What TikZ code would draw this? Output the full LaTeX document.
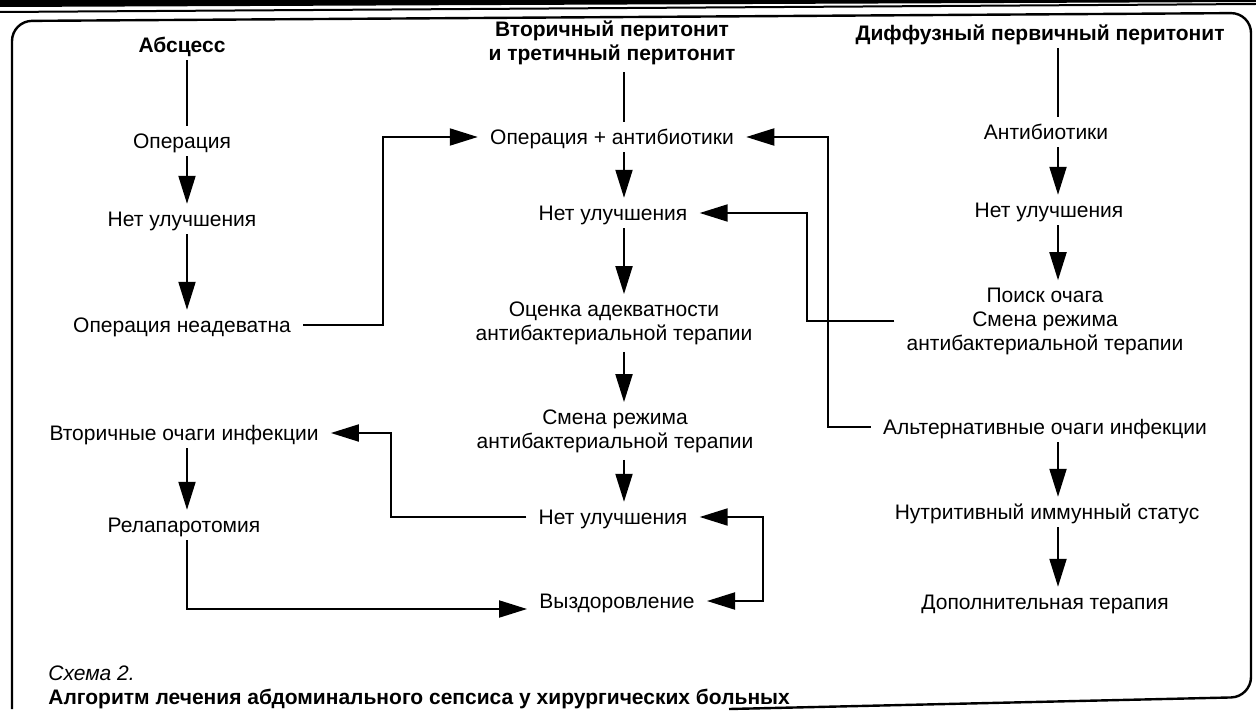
\documentclass[tikz,border=0pt]{standalone}
\usepackage{fontspec}
\setmainfont{Liberation Sans}
\usetikzlibrary{arrows.meta}
\begin{document}
\begin{tikzpicture}[x=0.5pt,y=-0.5pt,
  lbl/.style={font=\fontsize{10.5}{12}\selectfont, inner xsep=6pt, inner ysep=3.6pt, text height=7.6pt, text depth=0pt},
  mlbl/.style={font=\fontsize{10.5}{12}\selectfont, align=center, inner xsep=6pt, inner ysep=3.5pt},
  hd/.style={lbl, font=\fontsize{10.5}{12}\selectfont\bfseries},
  mhd/.style={mlbl, font=\fontsize{10.5}{12}\selectfont\bfseries},
  captxt/.style={font=\fontsize{10.5}{12}\selectfont, anchor=west, inner sep=0pt},
  conn/.style={line width=1pt},
  arr/.style={conn, -{Triangle[length=14pt,width=8.5pt]}},
  darr/.style={conn, {Triangle[length=14pt,width=8.5pt]}-{Triangle[length=14pt,width=8.5pt]}},
  framebox/.style={line width=1.2pt, rounded corners=10pt}
]
\useasboundingbox (0,0) rectangle (1256,711);
% top rules (slightly skewed as in the scan)
\fill (0,0) -- (1256,0) -- (1256,2) -- (0,7) -- cycle;
\draw[line width=1pt] (0,12) -- (1256,4);
% frame
\draw[framebox] (729,709) -- (1251,697) -- (1251,13) -- (12,21) -- (12,709);

% column / junction coordinates
\coordinate (cL) at (187,0);
\coordinate (cM) at (624,0);
\coordinate (cR) at (1058,0);
\coordinate (jA) at (383,0);
\coordinate (jB) at (828,0);
\coordinate (jC) at (807,0);
\coordinate (jD) at (391,0);
\coordinate (jE) at (763,0);

% left column
\node[hd] (abs) at (182,45) {Абсцесс};
\node[lbl] (op) at (182,141) {Операция};
\node[lbl] (nu1) at (182,219) {Нет улучшения};
\node[lbl] (opn) at (182,325) {Операция неадеватна};
\node[lbl] (vto) at (184,433) {Вторичные очаги инфекции};
\node[lbl] (rel) at (184,525) {Релапаротомия};

% middle column
\node[mhd] (vp) at (612,43) {Вторичный перитонит\\и третичный перитонит};
\node[lbl] (oa) at (612,137) {Операция + антибиотики};
\node[lbl] (nu2) at (613,213) {Нет улучшения};
\node[mlbl] (oc) at (614,323) {Оценка адекватности\\антибактериальной терапии};
\node[mlbl] (sm) at (615,431) {Смена режима\\антибактериальной терапии};
\node[lbl] (nu3) at (613,517) {Нет улучшения};
\node[lbl] (vyz) at (617,601) {Выздоровление};

% right column
\node[hd] (dif) at (1040,33) {Диффузный первичный перитонит};
\node[lbl] (ab) at (1046,132) {Антибиотики};
\node[lbl] (nu4) at (1049,210) {Нет улучшения};
\node[mlbl] (po) at (1045,321) {Поиск очага\\Смена режима\\антибактериальной терапии};
\node[lbl] (alt) at (1045,427) {Альтернативные очаги инфекции};
\node[lbl] (nut) at (1047,512) {Нутритивный иммунный статус};
\node[lbl] (dop) at (1045,602) {Дополнительная терапия};

% caption
\node[captxt, font=\fontsize{10.5}{12}\selectfont\itshape] (cap1) at (48,673) {Схема 2.};
\node[captxt, font=\fontsize{10.5}{12}\selectfont\bfseries] (cap2) at (48,699) {Алгоритм лечения абдоминального сепсиса у хирургических больных};

% left column connectors
\draw[conn] (abs.south -| cL) -- (op.north -| cL);
\draw[arr] (op.south -| cL) -- (nu1.north -| cL);
\draw[arr] (nu1.south -| cL) -- (opn.north -| cL);
\draw[arr] (vto.south -| cL) -- (rel.north -| cL);

% middle column connectors
\draw[conn] (vp.south -| cM) -- (oa.north -| cM);
\draw[arr] (oa.south -| cM) -- (nu2.north -| cM);
\draw[arr] (nu2.south -| cM) -- (oc.north -| cM);
\draw[arr] (oc.south -| cM) -- (sm.north -| cM);
\draw[arr] (sm.south -| cM) -- (nu3.north -| cM);

% right column connectors
\draw[conn] (dif.south -| cR) -- (ab.north -| cR);
\draw[arr] (ab.south -| cR) -- (nu4.north -| cR);
\draw[arr] (nu4.south -| cR) -- (po.north -| cR);
\draw[arr] (alt.south -| cR) -- (nut.north -| cR);
\draw[arr] (nut.south -| cR) -- (dop.north -| cR);

% cross connectors
\draw[arr] (opn.east) -- (opn.east -| jA) |- (oa.west);
\draw[arr] (alt.west) -- (alt.west -| jB) |- (oa.east);
\draw[arr] (po.west) -- (po.west -| jC) |- (nu2.east);
\draw[arr] (nu3.west) -- (nu3.west -| jD) |- (vto.east);
\draw[darr] (nu3.east) -- (nu3.east -| jE) |- (vyz.east);
\draw[arr] (rel.south -| cL) |- ([yshift=-4pt]vyz.west);
\end{tikzpicture}
\end{document}
